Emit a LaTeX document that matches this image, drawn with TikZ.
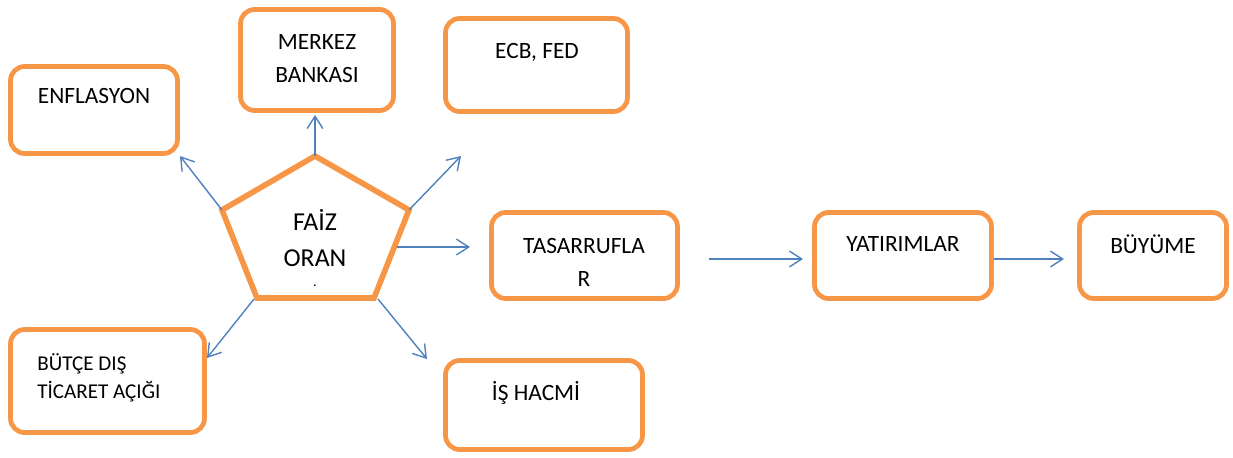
\documentclass[tikz,border=0pt]{standalone}
\usepackage{fontspec}
\setmainfont{Carlito}
\usetikzlibrary{arrows.meta}
\definecolor{naranja}{HTML}{F79646}
\definecolor{azul}{HTML}{4F81BD}
\begin{document}
\begin{tikzpicture}[x=0.02cm,y=-0.02cm,
    caja/.style={draw=naranja, line width=2.7pt, rounded corners=8pt, inner sep=0pt},
    flecha/.style={color=azul, line width=0.8pt, -{Straight Barb[length=7pt,width=9pt]}},
    texto/.style={font=\fontsize{13.3}{18.7}\selectfont, align=center, inner sep=0pt}]
    \useasboundingbox (0,0) rectangle (1233,457);
    % Cajas
    \node[caja, minimum width=3.34cm, minimum height=1.74cm] (enf) at (94,110)    {};
    \node[caja, minimum width=3.06cm, minimum height=2.02cm] (mer) at (317,60)    {};
    \node[caja, minimum width=3.64cm, minimum height=1.86cm] (ecb) at (536.5,65)  {};
    \node[caja, minimum width=3.72cm, minimum height=1.72cm] (tas) at (584.5,255.5) {};
    \node[caja, minimum width=3.54cm, minimum height=1.72cm] (yat) at (903,255.5) {};
    \node[caja, minimum width=2.94cm, minimum height=1.72cm] (buy) at (1153,255.5) {};
    \node[caja, minimum width=3.88cm, minimum height=2.06cm] (but) at (107.5,381) {};
    \node[caja, minimum width=3.94cm, minimum height=1.78cm] (ish) at (544,405)   {};
    % Textos de las cajas
    \node[texto] (t-enf) at (94,96)    {ENFLASYON};
    \node[texto] (t-mer) at (317,58.5) {MERKEZ\\BANKASI};
    \node[texto] (t-ecb) at (537,52)   {ECB, FED};
    \node[texto] (t-tas) at (584,262)  {TASARRUFLA\\R};
    \node[texto] (t-yat) at (903,244)  {YATIRIMLAR};
    \node[texto] (t-buy) at (1153,244) {BÜYÜME};
    \node[texto, font=\fontsize{12}{15.9}\selectfont, align=left, anchor=west]
                 (t-but) at (37,378)   {BÜTÇE DIŞ\\TİCARET AÇIĞI};
    \node[texto] (t-ish) at (536,393)  {İŞ HACMİ};
    % Pentagono
    \coordinate (p-arr) at (315,156);
    \coordinate (p-izq) at (222,210);
    \coordinate (p-der) at (409,210);
    \coordinate (p-ii)  at (257,298);
    \coordinate (p-id)  at (374,298);
    \draw[color=naranja, line width=3.2pt] (p-arr) -- (p-der) -- (p-id) -- (p-ii) -- (p-izq) -- cycle;
    \node[texto, font=\fontsize{14.7}{20.7}\selectfont] (faiz) at (315,238) {FAİZ\\ORAN};
    \node[texto, font=\fontsize{8}{9}\selectfont] (punto) at (315,286) {.};
    % Extremos de las flechas
    \coordinate (p-e)  at (397,247);
    \coordinate (p-so) at (254,299);
    \coordinate (p-se) at (378,299);
    \coordinate (f-mer) at (315,115);
    \coordinate (f-enf) at (180,156);
    \coordinate (f-ecb) at (461,156);
    \coordinate (f-tas) at (470,247);
    \coordinate (f-but) at (207,358);
    \coordinate (f-ish) at (427,359);
    \coordinate (a-tas) at (709,259);
    \coordinate (f-yat) at (803,259);
    \coordinate (a-yat) at (994,259);
    \coordinate (f-buy) at (1064,259);
    % Flechas
    \draw[flecha] (p-arr) -- (f-mer);
    \draw[flecha] (p-izq) -- (f-enf);
    \draw[flecha] (p-der) -- (f-ecb);
    \draw[flecha] (p-e)   -- (f-tas);
    \draw[flecha] (p-so)  -- (f-but);
    \draw[flecha] (p-se)  -- (f-ish);
    \draw[flecha] (a-tas) -- (f-yat);
    \draw[flecha] (a-yat) -- (f-buy);
\end{tikzpicture}
\end{document}
